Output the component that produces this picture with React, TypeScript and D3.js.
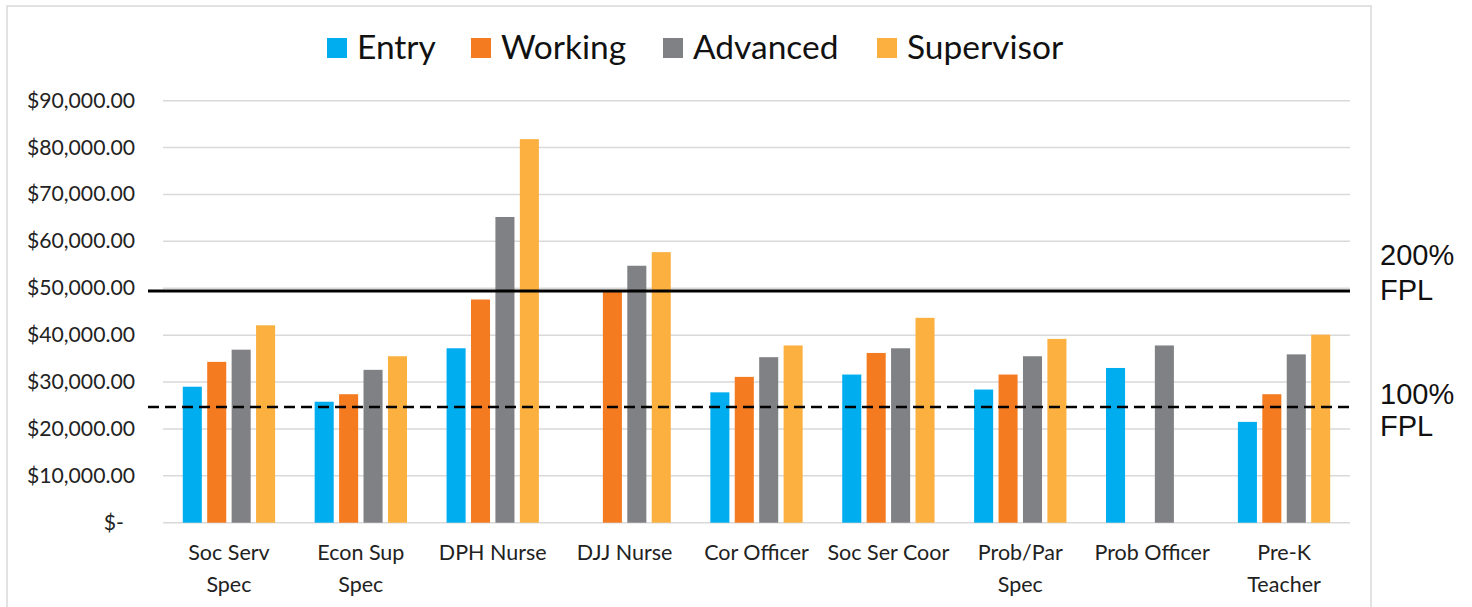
import React from 'react';
import * as d3 from 'd3';

const categories = [
  'Soc Serv|Spec', 'Econ Sup|Spec', 'DPH Nurse', 'DJJ Nurse', 'Cor Officer',
  'Soc Ser Coor', 'Prob/Par|Spec', 'Prob Officer', 'Pre-K|Teacher',
];
const levels = ['Entry', 'Working', 'Advanced', 'Supervisor'];
const colors = ['#00AEEF', '#F47B20', '#808184', '#FBB040'];

// null = no bar for that level
const entry = [29000, 25800, 37200, null, 27800, 31600, 28400, 33000, 21500];
const working = [34300, 27400, 47600, 49500, 31100, 36200, 31600, null, 27400];
const advanced = [36900, 32600, 65200, 54800, 35300, 37200, 35500, 37800, 35900];
const supervisor = [42100, 35500, 81800, 57700, 37800, 43700, 39200, null, 40100];
const series = [entry, working, advanced, supervisor];

const yTicks = [0, 10000, 20000, 30000, 40000, 50000, 60000, 70000, 80000, 90000];
const fpl200 = 49400;
const fpl100 = 24700;

const W = 1472;
const H = 607;

export default function App() {
  const plotLeft = 163;
  const plotRight = 1350;

  const y = d3.scaleLinear().domain([0, 90000]).range([522.7, 100.7]);
  const x0 = d3.scaleBand<number>()
    .domain(d3.range(categories.length))
    .range([plotLeft, plotRight])
    .paddingInner(0.3)
    .paddingOuter(0.15);
  const x1 = d3.scaleBand<number>()
    .domain(d3.range(levels.length))
    .range([0, x0.bandwidth()])
    .paddingInner(0.22);

  const money = d3.format('$,.2f');
  const step = x0.step();

  // legend layout
  const legendX = [327, 471, 663, 877];

  return (
    <svg width={W} height={H} style={{ position: 'absolute', left: 0, top: 0, background: '#fff' }}>
      <rect x={7} y={6} width={1364} height={640} fill="none" stroke="#d9d9d9" strokeWidth={1.5} />

      {/* legend */}
      {levels.map((l, i) => (
        <g key={l}>
          <rect x={legendX[i]} y={38} width={20} height={20} fill={colors[i]} />
          <text x={legendX[i] + 30} y={59} fontFamily="Lato, 'Open Sans', sans-serif" fontSize={33.5} fill="#111">{l}</text>
        </g>
      ))}

      {/* gridlines + y labels */}
      {yTicks.map(t => (
        <g key={t}>
          <line x1={plotLeft} x2={plotRight} y1={y(t)} y2={y(t)} stroke="#d9d9d9" strokeWidth={1.5} />
          <text
            x={t === 0 ? 124 : 135}
            y={y(t) + 7}
            textAnchor="end"
            fontFamily="Lato, 'Open Sans', sans-serif"
            fontSize={21.2}
            fill="#222"
          >
            {t === 0 ? '$-' : money(t)}
          </text>
        </g>
      ))}

      {/* bars */}
      {series.map((vals, si) =>
        vals.map((v, ci) =>
          v == null ? null : (
            <rect
              key={`${si}-${ci}`}
              x={(x0(ci) as number) + (x1(si) as number)}
              y={y(v)}
              width={x1.bandwidth()}
              height={y(0) - y(v)}
              fill={colors[si]}
            />
          )
        )
      )}

      {/* FPL reference lines */}
      <line x1={148} x2={plotRight} y1={y(fpl200)} y2={y(fpl200)} stroke="#000" strokeWidth={3} />
      <line x1={148} x2={plotRight} y1={y(fpl100)} y2={y(fpl100)} stroke="#000" strokeWidth={2.5} strokeDasharray="11,6" />

      {/* category labels */}
      {categories.map((c, i) => {
        const cx = plotLeft + step * (i + 0.5);
        return c.split('|').map((line, li) => (
          <text
            key={`${i}-${li}`}
            x={cx}
            y={560 + li * 31.5}
            textAnchor="middle"
            fontFamily="Lato, 'Open Sans', sans-serif"
            fontSize={21.5}
            fill="#222"
          >
            {line}
          </text>
        ));
      })}

      {/* right annotations */}
      <g fontFamily="'Liberation Sans', Arial, sans-serif" fontSize={29} fill="#111">
        <text x={1380} y={265}>200%</text>
        <text x={1380} y={299.5}>FPL</text>
        <text x={1380} y={403.5}>100%</text>
        <text x={1380} y={435.5}>FPL</text>
      </g>
    </svg>
  );
}
